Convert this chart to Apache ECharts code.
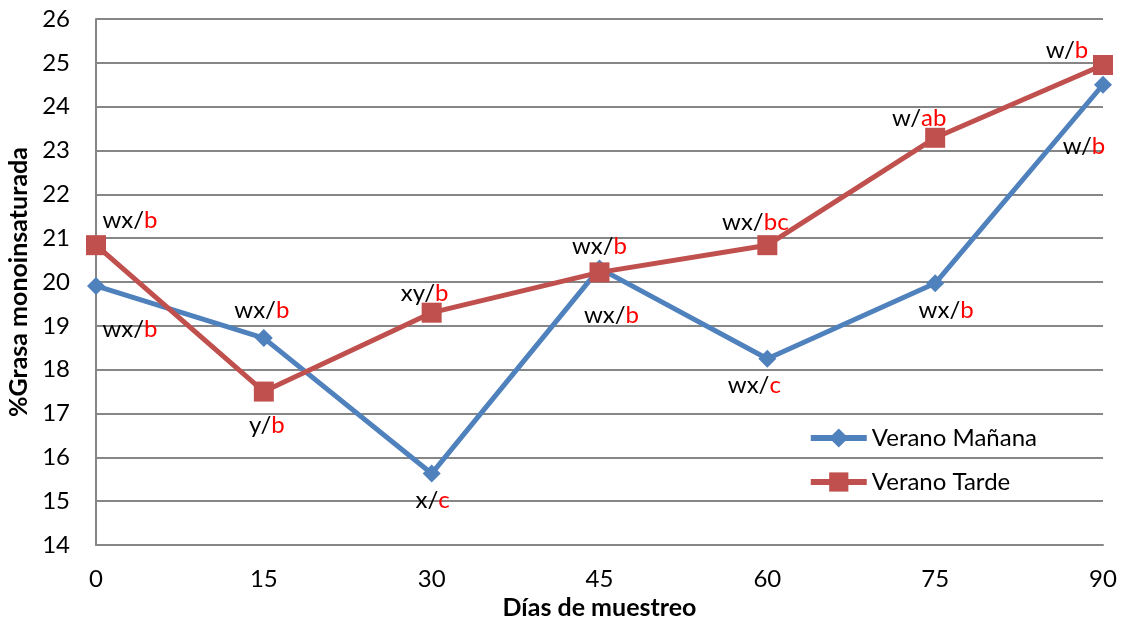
<!DOCTYPE html>
<html><head><meta charset="utf-8">
<script src="https://cdn.jsdelivr.net/npm/echarts@6/dist/echarts.min.js"></script>
<style>html,body{margin:0;padding:0;background:#fff}#c{width:1127px;height:628px}</style>
</head><body><div id="c"></div>
<script>
// ---- data ----
const days = [0, 15, 30, 45, 60, 75, 90];
const mananaValues = [19.91, 18.72, 15.63, 20.31, 18.25, 19.97, 24.5];
const tardeValues  = [20.84, 17.5, 19.3, 20.22, 20.84, 23.29, 24.95];
const mananaLetters = [['wx/','b'],['wx/','b'],['x/','c'],['wx/','b'],['wx/','c'],['wx/','b'],['w/','b']];
const tardeLetters  = [['wx/','b'],['y/','b'],['xy/','b'],['wx/','b'],['wx/','bc'],['w/','ab'],['w/','b']];
const seriesNames = ['Verano Mañana', 'Verano Tarde'];
const yTicks = {min: 14, max: 26, interval: 1};
const xTicks = {min: 0, max: 90, interval: 15};

// ---- style (label offsets in px) ----
const mananaOffsets = [[34,43],[-2,-28],[1,27],[12,47],[-13,27],[11,27],[-19,62]];
const tardeOffsets  = [[34,-25],[3,34],[-7,-19],[0,-26],[-12,-23],[-16,-20],[-36,-15]];
const FONT = 'Lato';
const FS = 24;

function buildData(vals, letters, offs) {
  return vals.map((v, i) => ({
    value: [days[i], v],
    label: {
      show: true, position: 'inside', offset: offs[i],
      formatter: '{k|' + letters[i][0] + '}{r|' + letters[i][1] + '}',
      rich: {
        k: {color: '#000', fontSize: FS, fontFamily: FONT},
        r: {color: '#FF0000', fontSize: FS, fontFamily: FONT}
      }
    }
  }));
}

const chart = echarts.init(document.getElementById('c'));
chart.setOption({
  backgroundColor: '#fff',
  animation: false,
  textStyle: {fontFamily: FONT},
  grid: {left: 96, right: 24, top: 19, bottom: 83, containLabel: false, outerBoundsMode: 'none'},
  xAxis: {
    type: 'value', min: xTicks.min, max: xTicks.max, interval: xTicks.interval,
    name: 'Días de muestreo', nameLocation: 'middle', nameGap: 50,
    nameTextStyle: {fontSize: 25, fontWeight: 'bold', color: '#000', fontFamily: FONT},
    axisLine: {show: true, lineStyle: {color: '#868686', width: 2}},
    axisTick: {show: false},
    splitLine: {show: false},
    axisLabel: {fontSize: FS, color: '#000', margin: 22, fontFamily: FONT}
  },
  yAxis: {
    type: 'value', min: yTicks.min, max: yTicks.max, interval: yTicks.interval,
    name: '%Grasa monoinsaturada', nameLocation: 'middle', nameGap: 61, nameRotate: 90,
    nameTextStyle: {fontSize: 25, fontWeight: 'bold', color: '#000', fontFamily: FONT},
    axisLine: {show: true, lineStyle: {color: '#868686', width: 2}},
    axisTick: {show: false},
    splitLine: {show: true, lineStyle: {color: '#868686', width: 2}},
    axisLabel: {fontSize: FS, color: '#000', margin: 26, fontFamily: FONT}
  },
  legend: {
    orient: 'vertical', right: 85, top: 421, itemGap: 20,
    itemWidth: 56, itemHeight: 24,
    lineStyle: {width: 6},
    textStyle: {fontSize: FS, color: '#000', fontFamily: FONT},
    data: seriesNames
  },
  series: [
    {
      name: seriesNames[0], type: 'line', data: buildData(mananaValues, mananaLetters, mananaOffsets),
      symbol: 'diamond', symbolSize: 18,
      lineStyle: {color: '#4F81BD', width: 5}, itemStyle: {color: '#4F81BD'}, z: 2
    },
    {
      name: seriesNames[1], type: 'line', data: buildData(tardeValues, tardeLetters, tardeOffsets),
      symbol: 'rect', symbolSize: 20,
      lineStyle: {color: '#C0504D', width: 5}, itemStyle: {color: '#C0504D'}, z: 3
    }
  ]
});
</script></body></html>
